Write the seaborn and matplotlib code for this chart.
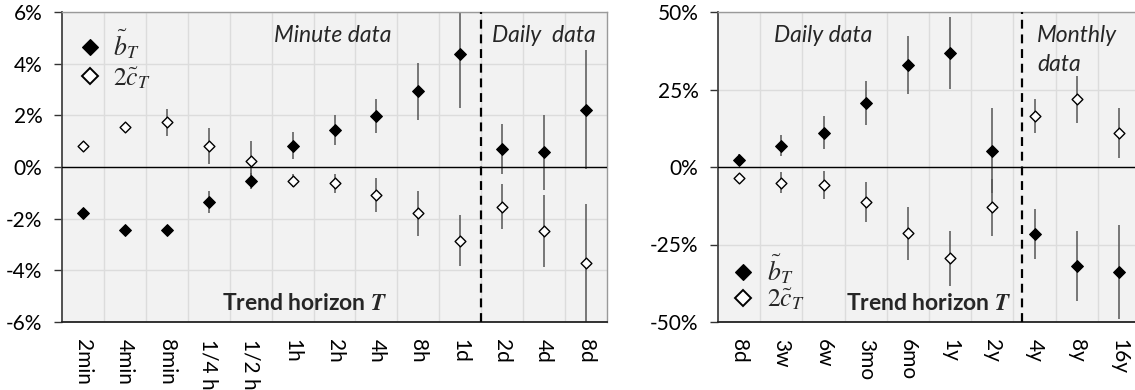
import numpy as np
import pandas as pd
import matplotlib
matplotlib.use("Agg")
import matplotlib.pyplot as plt
import seaborn as sns
from matplotlib.lines import Line2D
from matplotlib.ticker import FixedLocator, FuncFormatter

# ---- intraday / daily trend horizons (left panel), values in % ----
short_horizons = ["2min", "4min", "8min", "1/4 h", "1/2 h", "1h", "2h", "4h",
                  "8h", "1d", "2d", "4d", "8d"]
short_b = [-1.79, -2.43, -2.45, -1.34, -0.55, 0.83, 1.43, 1.96, 2.93, 4.37,
           0.70, 0.57, 2.22]
short_b_err = [0.10, 0.12, 0.20, 0.43, 0.30, 0.53, 0.58, 0.66, 1.10, 2.10,
               0.98, 1.45, 2.30]
short_c = [0.83, 1.56, 1.73, 0.80, 0.24, -0.53, -0.63, -1.08, -1.79, -2.85,
           -1.54, -2.47, -3.72]
short_c_err = [0.10, 0.15, 0.53, 0.70, 0.75, 0.25, 0.37, 0.65, 0.88, 0.99,
               0.87, 1.40, 2.30]

# ---- daily / monthly trend horizons (right panel), values in % ----
long_horizons = ["8d", "3w", "6w", "3mo", "6mo", "1y", "2y", "4y", "8y", "16y"]
long_b = [2.2, 6.9, 11.0, 20.6, 32.9, 36.7, 5.3, -21.6, -31.8, -33.8]
long_b_err = [2.0, 3.4, 5.3, 7.0, 9.3, 11.6, 13.7, 8.2, 11.3, 15.2]
long_c = [-3.6, -5.0, -5.7, -11.2, -21.4, -29.5, -13.0, 16.5, 21.9, 10.9]
long_c_err = [1.5, 3.3, 4.5, 6.4, 8.6, 9.0, 9.2, 5.5, 7.6, 8.0]

sns.set_theme(style="white")
plt.rcParams["font.family"] = ["Lato", "DejaVu Sans"]
plt.rcParams["mathtext.fontset"] = "stix"

BG = "#f2f2f2"
GRID = "#dcdcdc"
ERR = "#555555"
LABEL_B = r"$\tilde{b}_T$"
LABEL_C = r"$2\tilde{c}_T$"
TICK_FS = 15
NOTE_FS = 16.5
LEGEND_FS = 18.5


def draw_panel(ax, horizons, b, b_err, c, c_err, ylim, yticks, split_x):
    df = pd.DataFrame({
        "horizon": horizons * 2,
        "value": list(b) + list(c),
        "err": list(b_err) + list(c_err),
        "series": ["b"] * len(horizons) + ["c"] * len(horizons),
    })
    ax.set_facecolor(BG)
    # error bars first so the markers sit on top
    ax.errorbar(df["horizon"], df["value"], yerr=df["err"], fmt="none",
                ecolor=ERR, elinewidth=1.1, capsize=0, zorder=2)
    sns.scatterplot(data=df[df.series == "b"], x="horizon", y="value", ax=ax,
                    marker="D", s=36, color="black", edgecolor="black",
                    linewidth=0.8, zorder=4, legend=False)
    sns.scatterplot(data=df[df.series == "c"], x="horizon", y="value", ax=ax,
                    marker="D", s=30, facecolor="white", edgecolor="black",
                    linewidth=1.0, zorder=4, legend=False)

    n = len(horizons)
    ax.set_xlim(-0.5, n - 0.5)
    ax.set_ylim(*ylim)
    ax.yaxis.set_major_locator(FixedLocator(yticks))
    ax.yaxis.set_major_formatter(FuncFormatter(lambda v, p: f"{int(round(v))}%"))
    ax.xaxis.set_minor_locator(FixedLocator(np.arange(n - 1) + 0.5))
    ax.grid(True, which="minor", axis="x", color=GRID, lw=1.0, zorder=0)
    ax.grid(True, which="major", axis="y", color=GRID, lw=1.0, zorder=0)
    ax.set_axisbelow(True)

    ax.axhline(0, color="black", lw=1.0, zorder=3)
    ax.axvline(split_x, color="black", lw=1.6, ls=(0, (4, 2.6)), zorder=3)

    ax.set_xlabel("")
    ax.set_ylabel("")
    ax.tick_params(axis="y", which="major", direction="out", length=6,
                   width=1.0, color="#333333", pad=8, labelsize=TICK_FS,
                   labelcolor="black", left=True)
    ax.tick_params(axis="x", which="both", length=0, pad=12, labelsize=TICK_FS,
                   labelcolor="black")
    for lab in ax.get_xticklabels():
        lab.set_rotation(-90)
        lab.set_va("top")
        lab.set_ha("center")

    for side in ("top", "right"):
        ax.spines[side].set_color("#9a9a9a")
        ax.spines[side].set_linewidth(1.0)
    ax.spines["left"].set_color("#444444")
    ax.spines["left"].set_linewidth(1.3)
    ax.spines["bottom"].set_color("#222222")
    ax.spines["bottom"].set_linewidth(1.3)


def legend_handles():
    hb = Line2D([], [], ls="none", marker="D", ms=8.6, mfc="black",
                mec="black", mew=0.8)
    hc = Line2D([], [], ls="none", marker="D", ms=7.8, mfc="white",
                mec="black", mew=1.4)
    return [hb, hc]


W, H = 1135, 390
fig = plt.figure(figsize=(W / 100, H / 100), dpi=100)
ax1 = fig.add_axes([62 / W, 68 / H, 545 / W, 310 / H])
ax2 = fig.add_axes([718 / W, 68 / H, 422 / W, 310 / H])

draw_panel(ax1, short_horizons, short_b, short_b_err, short_c, short_c_err,
           (-6, 6), [-6, -4, -2, 0, 2, 4, 6], 9.5)
draw_panel(ax2, long_horizons, long_b, long_b_err, long_c, long_c_err,
           (-50, 50), [-50, -25, 0, 25, 50], 6.7)

# left panel annotations
ax1.text(0.496, 0.925, "Minute data", transform=ax1.transAxes, style="italic",
         fontsize=NOTE_FS, ha="center", va="center")
ax1.text(0.884, 0.925, "Daily  data", transform=ax1.transAxes, style="italic",
         fontsize=NOTE_FS, ha="center", va="center")
ax1.text(0.446, 0.06, r"Trend horizon $\mathbfit{T}$", transform=ax1.transAxes,
         fontweight="bold", fontsize=NOTE_FS, ha="center", va="center")
ax1.legend(legend_handles(), [LABEL_B, LABEL_C], loc="upper left",
           bbox_to_anchor=(0.0, 1.0), frameon=False, fontsize=LEGEND_FS,
           handletextpad=0.45, labelspacing=0.15, borderaxespad=0.2,
           handlelength=0.95)

# right panel annotations
ax2.text(0.249, 0.925, "Daily data", transform=ax2.transAxes, style="italic",
         fontsize=NOTE_FS, ha="center", va="center")
ax2.text(0.756, 0.925, "Monthly", transform=ax2.transAxes, style="italic",
         fontsize=NOTE_FS, ha="left", va="center")
ax2.text(0.756, 0.83, "data", transform=ax2.transAxes, style="italic",
         fontsize=NOTE_FS, ha="left", va="center")
ax2.text(0.498, 0.06, r"Trend horizon $\mathbfit{T}$", transform=ax2.transAxes,
         fontweight="bold", fontsize=NOTE_FS, ha="center", va="center")
ax2.legend(legend_handles(), [LABEL_B, LABEL_C], loc="lower left",
           bbox_to_anchor=(0.0, -0.01), frameon=False, fontsize=LEGEND_FS,
           handletextpad=0.45, labelspacing=0.0, borderaxespad=0.1,
           handlelength=0.95)

fig.savefig("out.png", dpi=100, facecolor="white")
